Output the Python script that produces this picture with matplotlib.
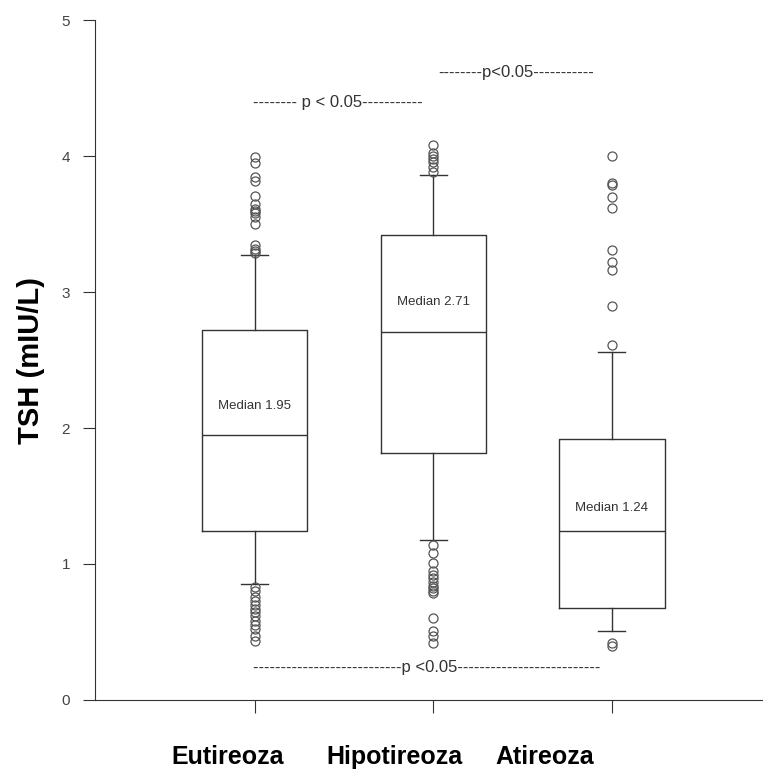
import matplotlib
matplotlib.use('Agg')
import matplotlib.pyplot as plt

plt.rcParams['font.family'] = ['Liberation Sans', 'DejaVu Sans']

groups = ['Eutireoza', 'Hipotireoza', 'Atireoza']
q1 = [1.24, 1.82, 0.68]
med = [1.95, 2.71, 1.24]
q3 = [2.72, 3.42, 1.92]
wlo = [0.85, 1.18, 0.51]
whi = [3.27, 3.86, 2.56]
fliers = [
    [3.99, 3.95, 3.85, 3.82, 3.71, 3.65, 3.61, 3.60, 3.58, 3.55, 3.50, 3.35, 3.32, 3.30, 3.29,
     0.83, 0.80, 0.76, 0.73, 0.70, 0.67, 0.65, 0.62, 0.58, 0.55, 0.52, 0.47, 0.43],
    [3.88, 3.92, 3.96, 3.98, 4.00, 4.02, 4.08,
     1.14, 1.08, 1.01, 0.95, 0.92, 0.90, 0.87, 0.84, 0.82, 0.80, 0.79, 0.60, 0.51, 0.47, 0.42],
    [4.00, 3.80, 3.79, 3.70, 3.62, 3.31, 3.22, 3.16, 2.90, 2.61, 0.42, 0.40],
]
median_labels = ['Median 1.95', 'Median 2.71', 'Median 1.24']
label_y = [2.16, 2.93, 1.41]

stats = []
for i in range(3):
    stats.append({'med': med[i], 'q1': q1[i], 'q3': q3[i],
                  'whislo': wlo[i], 'whishi': whi[i], 'fliers': fliers[i]})

fig = plt.figure(figsize=(7.63, 7.76), dpi=100)
ax = fig.add_axes([0.1245, 0.098, 0.874, 0.876])

line = dict(color='#333333', linewidth=1)
ax.bxp(stats, positions=[1, 2, 3], widths=0.59, showfliers=True,
       boxprops=line, medianprops=line, whiskerprops=line,
       capprops=line, capwidths=0.15,
       flierprops=dict(marker='o', markersize=6.5, markerfacecolor='none',
                       markeredgecolor='#555555', markeredgewidth=0.9))

for i in range(3):
    ax.text(i + 1, label_y[i], median_labels[i], ha='center', va='center',
            fontsize=9.5, color='#333333')

# significance notes, drawn as dashed text like the original
ax.text(0.989, 4.36, '-' * 8 + ' p < 0.05' + '-' * 11, ha='left', va='baseline',
        fontsize=12, color='#333333')
ax.text(2.025, 4.58, '-' * 8 + 'p<0.05' + '-' * 11, ha='left', va='baseline',
        fontsize=12, color='#333333')
ax.text(0.989, 0.206, '-' * 27 + 'p <0.05' + '-' * 26, ha='left', va='baseline',
        fontsize=12, color='#333333')

ax.set_xlim(0.105, 3.84)
ax.set_ylim(0, 5)
ax.set_yticks([0, 1, 2, 3, 4, 5])
ax.set_xticks([1, 2, 3])
ax.set_xticklabels([])
label_x = [0.849, 1.784, 2.625]
for x, g in zip(label_x, groups):
    ax.text(x, -0.42, g, ha='center', va='center', fontsize=18, fontweight='bold',
            clip_on=False)
ax.tick_params(axis='x', length=9, color='#333333')
ax.tick_params(axis='y', length=9, pad=9, labelsize=11, color='#333333', labelcolor='#444444')
ax.set_ylabel('TSH (mIU/L)', fontsize=21, fontweight='bold', labelpad=12)
ax.spines['top'].set_visible(False)
ax.spines['right'].set_visible(False)
ax.spines['left'].set_color('#333333')
ax.spines['bottom'].set_color('#333333')

fig.savefig('out.png', dpi=100)
